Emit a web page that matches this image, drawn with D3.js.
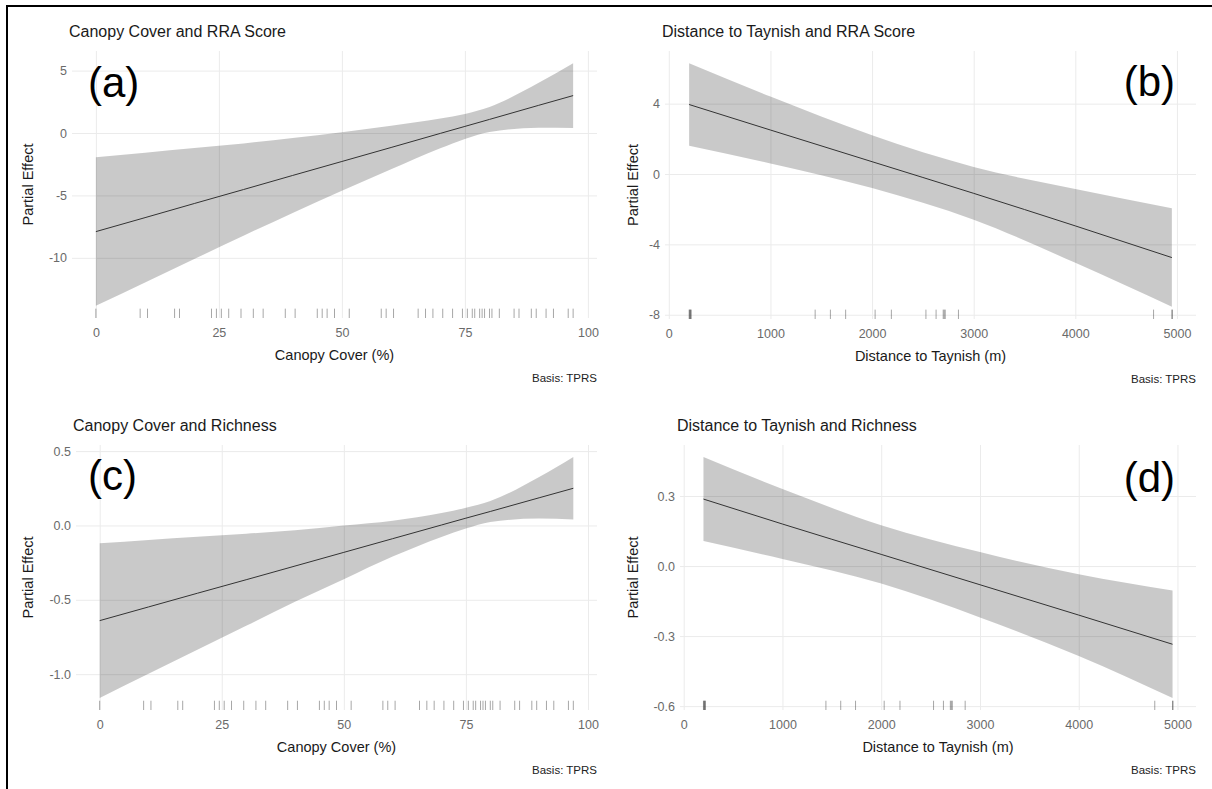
<!DOCTYPE html>
<html>
<head>
<meta charset="utf-8">
<script src="https://cdn.jsdelivr.net/npm/d3@7"></script>
<style>
body { margin: 0; background: #fff; }
svg { display: block; font-family: "Liberation Sans", Arial, sans-serif; }
</style>
</head>
<body>
<svg id="chart" width="1212" height="789"></svg>
<script>
// ---- data ----
var canopyX = [0, 10, 20, 30, 40, 50, 60, 70, 75, 80, 90, 97];
var rraCanopyFit   = [-7.9, -6.78, -5.65, -4.53, -3.4, -2.28, -1.16, -0.03, 0.53, 1.09, 2.22, 3.0];
var rraCanopyUpper = [-1.95, -1.58, -1.2, -0.83, -0.4, 0.07, 0.59, 1.17, 1.53, 2.09, 4.02, 5.6];
var rraCanopyLower = [-13.85, -11.98, -10.1, -8.23, -6.4, -4.63, -2.91, -1.23, -0.47, 0.09, 0.42, 0.4];
var richCanopyFit   = [-0.64, -0.548, -0.456, -0.365, -0.273, -0.181, -0.089, 0.003, 0.049, 0.094, 0.186, 0.25];
var richCanopyUpper = [-0.12, -0.098, -0.076, -0.055, -0.033, -0.001, 0.031, 0.083, 0.119, 0.164, 0.326, 0.46];
var richCanopyLower = [-1.16, -0.998, -0.836, -0.675, -0.513, -0.361, -0.209, -0.077, -0.021, 0.024, 0.046, 0.04];

var distX = [200, 1000, 2000, 3000, 4000, 4950];
var rraDistFit   = [3.95, 2.5, 0.7, -1.1, -2.95, -4.75];
var rraDistUpper = [6.3, 4.4, 2.2, 0.4, -0.85, -1.95];
var rraDistLower = [1.6, 0.6, -0.8, -2.6, -5.05, -7.55];
var richDistFit   = [0.287, 0.18, 0.05, -0.08, -0.21, -0.335];
var richDistUpper = [0.467, 0.33, 0.175, 0.06, -0.035, -0.105];
var richDistLower = [0.107, 0.03, -0.075, -0.22, -0.385, -0.565];

// observed covariate values (rug)
var canopyRug = [0, 9, 10.5, 16, 17, 23.5, 24.5, 25.5, 27, 29.5, 32, 34, 38.5, 40.5, 45, 46, 47, 48.5,
  51.5, 58, 59, 60.5, 65.5, 67, 68.5, 70.5, 72.5, 74.5, 75.5, 76.5, 77, 78, 78.5, 79, 80, 80.5,
  82, 85, 86, 88.5, 89.5, 91.5, 93, 96, 97];
var distRug = [200, 205, 210, 215, 220, 1440, 1590, 1740, 2030, 2190, 2530, 2630, 2700, 2710, 2720,
  2850, 4770, 4950, 4955];

var canopyTicks = [0, 25, 50, 75, 100];
var distTicks = [0, 1000, 2000, 3000, 4000, 5000];
var rraCanopyYTicks = [-10, -5, 0, 5];
var rraDistYTicks = [-8, -4, 0, 4];
var richCanopyYTicks = [-1.0, -0.5, 0.0, 0.5];
var richDistYTicks = [-0.6, -0.3, 0.0, 0.3];

var titles = ["Canopy Cover and RRA Score", "Distance to Taynish and RRA Score",
  "Canopy Cover and Richness", "Distance to Taynish and Richness"];
var tags = ["(a)", "(b)", "(c)", "(d)"];

// ---- drawing ----
var svg = d3.select("#chart");

function expand(ext, f) {
  var d = (ext[1] - ext[0]) * f;
  return [ext[0] - d, ext[1] + d];
}

function drawPanel(p) {
  var g = svg.append("g");
  var h = p.bottom - p.top;

  var x = d3.scaleLinear()
    .domain(expand(d3.extent(p.xs), 0.05))
    .range([p.left, p.right]);
  var y = d3.scaleLinear()
    .domain(expand(d3.extent(p.lower.concat(p.upper)), 0.05))
    .range([p.bottom, p.top]);

  // grid
  g.append("g")
    .attr("transform", "translate(0," + p.bottom + ")")
    .call(d3.axisBottom(x).tickValues(p.xTicks).tickSize(-h).tickFormat(""))
    .call(function (a) { a.select(".domain").remove(); })
    .selectAll("line").attr("stroke", "#ebebeb");
  g.append("g")
    .attr("transform", "translate(" + p.left + ",0)")
    .call(d3.axisLeft(y).tickValues(p.yTicks).tickSize(-(p.right - p.left)).tickFormat(""))
    .call(function (a) { a.select(".domain").remove(); })
    .selectAll("line").attr("stroke", "#ebebeb");

  // ribbon + fit
  var area = d3.area()
    .x(function (d, i) { return x(p.xs[i]); })
    .y0(function (d, i) { return y(p.lower[i]); })
    .y1(function (d, i) { return y(p.upper[i]); })
    .curve(d3.curveMonotoneX);
  g.append("path").datum(p.xs).attr("d", area)
    .attr("fill", "#000").attr("fill-opacity", 0.21);

  var line = d3.line()
    .x(function (d, i) { return x(p.xs[i]); })
    .y(function (d, i) { return y(p.fit[i]); })
    .curve(d3.curveMonotoneX);
  g.append("path").datum(p.xs).attr("d", line)
    .attr("fill", "none").attr("stroke", "#333").attr("stroke-width", 1);

  // rug
  g.selectAll(".rug").data(p.rug).enter().append("line")
    .attr("x1", function (d) { return x(d); })
    .attr("x2", function (d) { return x(d); })
    .attr("y1", p.bottom - 0.035 * h)
    .attr("y2", p.bottom)
    .attr("stroke", "#000").attr("stroke-opacity", 0.35).attr("stroke-width", 1);

  // tick labels
  var xa = g.append("g")
    .attr("transform", "translate(0," + p.bottom + ")")
    .call(d3.axisBottom(x).tickValues(p.xTicks).tickSize(0).tickPadding(10)
      .tickFormat(function (d) { return String(d); }));
  xa.select(".domain").remove();
  var ya = g.append("g")
    .attr("transform", "translate(" + p.left + ",0)")
    .call(d3.axisLeft(y).tickValues(p.yTicks).tickSize(0).tickPadding(5)
      .tickFormat(p.yFormat));
  ya.select(".domain").remove();
  g.selectAll(".tick text")
    .attr("fill", "#6a6a6a").style("font-size", "12.5px")
    .style("font-family", "'Liberation Sans', Arial, sans-serif");

  // texts
  g.append("text").attr("x", p.left - 3).attr("y", p.top - 14)
    .style("font-size", "16px").attr("fill", "#1a1a1a").text(p.title);
  g.append("text")
    .attr("transform", "translate(" + p.yTitleX + "," + ((p.top + p.bottom) / 2) + ") rotate(-90)")
    .attr("text-anchor", "middle").style("font-size", "14.5px").attr("fill", "#1a1a1a")
    .text("Partial Effect");
  g.append("text").attr("x", (p.left + p.right) / 2).attr("y", p.bottom + 42)
    .attr("text-anchor", "middle").style("font-size", "14.5px").attr("fill", "#1a1a1a")
    .text(p.xTitle);
  g.append("text").attr("x", p.right).attr("y", p.bottom + 64)
    .attr("text-anchor", "end").style("font-size", "11.5px").attr("fill", "#222")
    .text("Basis: TPRS");
  g.append("text").attr("x", p.tagX).attr("y", p.tagY)
    .attr("text-anchor", p.tagAnchor).style("font-size", "42px").attr("fill", "#000")
    .text(p.tag);
}

var fmtInt = function (d) { return String(d); };
var fmt1 = function (d) { return d.toFixed(1); };

drawPanel({ xs: canopyX, fit: rraCanopyFit, upper: rraCanopyUpper, lower: rraCanopyLower,
  rug: canopyRug, xTicks: canopyTicks, yTicks: rraCanopyYTicks, yFormat: fmtInt,
  left: 72, right: 597, top: 51, bottom: 318, yTitleX: 33,
  title: titles[0], xTitle: "Canopy Cover (%)", tag: tags[0], tagX: 88, tagY: 97, tagAnchor: "start" });

drawPanel({ xs: distX, fit: rraDistFit, upper: rraDistUpper, lower: rraDistLower,
  rug: distRug, xTicks: distTicks, yTicks: rraDistYTicks, yFormat: fmtInt,
  left: 665, right: 1196, top: 51, bottom: 319, yTitleX: 638,
  title: titles[1], xTitle: "Distance to Taynish (m)", tag: tags[1], tagX: 1175, tagY: 96, tagAnchor: "end" });

drawPanel({ xs: canopyX, fit: richCanopyFit, upper: richCanopyUpper, lower: richCanopyLower,
  rug: canopyRug, xTicks: canopyTicks, yTicks: richCanopyYTicks, yFormat: fmt1,
  left: 76, right: 597, top: 445, bottom: 710, yTitleX: 33,
  title: titles[2], xTitle: "Canopy Cover (%)", tag: tags[2], tagX: 88, tagY: 490, tagAnchor: "start" });

drawPanel({ xs: distX, fit: richDistFit, upper: richDistUpper, lower: richDistLower,
  rug: distRug, xTicks: distTicks, yTicks: richDistYTicks, yFormat: fmt1,
  left: 680, right: 1196, top: 445, bottom: 710, yTitleX: 638,
  title: titles[3], xTitle: "Distance to Taynish (m)", tag: tags[3], tagX: 1175, tagY: 492, tagAnchor: "end" });

// figure frame (left and top edges only)
svg.append("path").attr("d", "M7,789V6H1212")
  .attr("fill", "none").attr("stroke", "#000").attr("stroke-width", 2);
</script>
</body>
</html>
